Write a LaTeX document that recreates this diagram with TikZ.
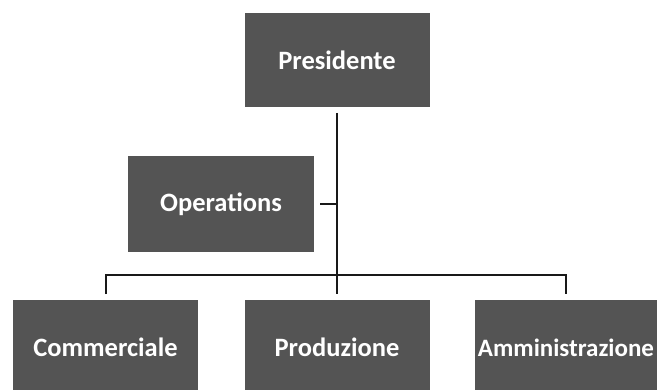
\documentclass[tikz,border=0pt]{standalone}
\usepackage{fontspec}
\setmainfont{Carlito}
\definecolor{boxgray}{RGB}{84,84,84}
\definecolor{linecol}{RGB}{25,25,25}
\tikzset{
  orgbox/.style={fill=boxgray, text=white, font=\bfseries\fontsize{26.5}{30}\selectfont,
    minimum width=185pt, minimum height=95pt, inner sep=0pt, outer sep=6pt, anchor=center},
  conn/.style={draw=linecol, line width=2pt}
}
\begin{document}
\begin{tikzpicture}[x=1pt,y=1pt]
\useasboundingbox (0,0) rectangle (657,389);
\clip (0,0) rectangle (657,389);
\node[orgbox, minimum height=94pt] (pres) at (337,329) {Presidente};
\node[orgbox, minimum width=186pt, minimum height=96pt] (ops) at (221,185) {Operations};
\node[orgbox] (comm) at (105.5,41.5) {Commerciale};
\node[orgbox] (prod) at (337,41.5) {Produzione};
\node[orgbox, minimum width=182pt, font=\bfseries\fontsize{25}{30}\selectfont] (admin) at (566,41.5) {Amministrazione};
\coordinate (bus) at (337,114);
\draw[conn] (pres.south) -- (prod.north);
\draw[conn] (ops.east) -- (ops.east -| pres.south);
\draw[conn] (comm.north) -- (comm.north |- bus) -- (admin.north |- bus) -- (admin.north);
\end{tikzpicture}
\end{document}
